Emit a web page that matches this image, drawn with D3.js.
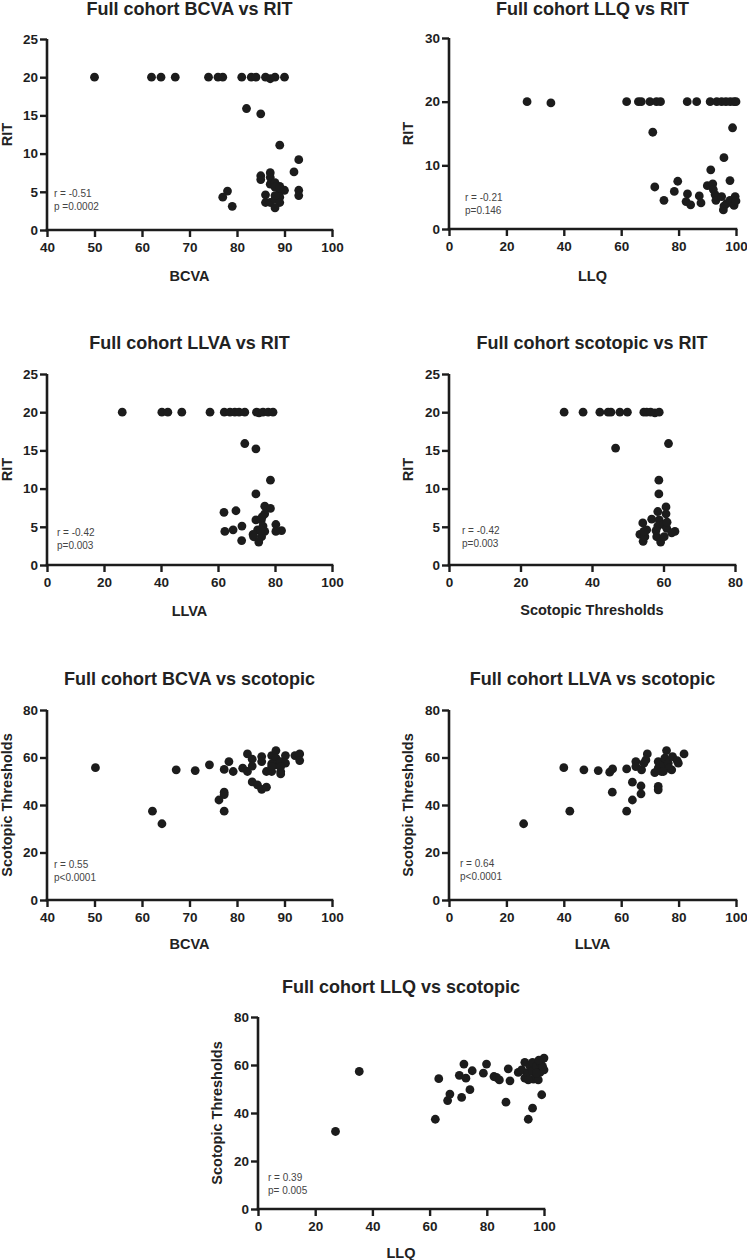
<!DOCTYPE html>
<html><head><meta charset="utf-8">
<script src="https://cdn.jsdelivr.net/npm/d3@7"></script>
<style>
body{margin:0;background:#fff;}
svg text{font-family:"Liberation Sans",Arial,sans-serif;}
</style></head>
<body><svg id="c" width="747" height="1260"></svg>
<script>
// ---------- DATA ----------
const titles = ["Full cohort BCVA vs RIT","Full cohort LLQ vs RIT","Full cohort LLVA vs RIT","Full cohort scotopic vs RIT",
  "Full cohort BCVA vs scotopic","Full cohort LLVA vs scotopic","Full cohort LLQ vs scotopic"];
const xLabels = ["BCVA","LLQ","LLVA","Scotopic Thresholds","BCVA","LLVA","LLQ"];
const yLabels = ["RIT","RIT","RIT","RIT","Scotopic Thresholds","Scotopic Thresholds","Scotopic Thresholds"];
const stats = [["r = -0.51","p =0.0002"],["r = -0.21","p=0.146"],["r = -0.42","p=0.003"],["r = -0.42","p=0.003"],
  ["r = 0.55","p<0.0001"],["r = 0.64","p<0.0001"],["r = 0.39","p= 0.005"]];
const xTicks = [[40,50,60,70,80,90,100],[0,20,40,60,80,100],[0,20,40,60,80,100],[0,20,40,60,80],
  [40,50,60,70,80,90,100],[0,20,40,60,80,100],[0,20,40,60,80,100]];
const yTicks = [[0,5,10,15,20,25],[0,10,20,30],[0,5,10,15,20,25],[0,5,10,15,20,25],
  [0,20,40,60,80],[0,20,40,60,80],[0,20,40,60,80]];

// Panel 1: BCVA vs RIT
const bcvaRit = [[50,20],[62,20],[64,20],[67,20],[74,20],[76,20],[77,20],[81,20],[83,20],[84,20],[86,20],[87,19.8],[88,20],[90,20],
 [82,15.9],[85,15.2],[89,11.1],[93,9.2],[92,7.6],[85,7.1],[85,6.6],[87,7.5],[87,6.9],[87,6.0],[88,6.2],[89,5.7],[90,5.2],[89,5.0],
 [93,5.2],[93,4.5],[78,5.1],[77,4.3],[79,3.1],[86,4.6],[86,3.6],[87,3.6],[88,4.0],[89,4.3],[89,3.6],[88,2.9],[88,4.5],[88,5.6],[89,5.5]];
// Panel 2: LLQ vs RIT
const llqRit = [[27.2,20],[35.5,19.8],[61.9,20],[66,20],[67,20],[70,20],[72.3,20],[73.7,20],[83,20],[86.3,20],[91,20],[93.3,20],
 [95,20],[96.5,20],[98,20],[99.3,20],[100,20],[71,15.2],[98.8,15.9],[95.8,11.2],[91.2,9.3],[97.9,7.6],[71.7,6.6],[79.7,7.5],
 [78.5,5.9],[74.9,4.5],[83.1,5.5],[82.6,4.3],[84.2,3.8],[87.2,5.2],[87.8,4.1],[90,6.8],[91.9,7.1],[92.1,6.2],[92.7,5.4],[93,4.5],
 [95,5.1],[95.6,3.0],[95.8,3.6],[96.7,4.0],[97.9,4.5],[98.8,4.2],[99.7,5.1],[99.3,3.7],[100,4.4]];
// Panel 3: LLVA vs RIT
const llvaRit = [[26.4,20],[40.3,20],[42.4,20],[47.3,20],[57.2,20],[62.2,20],[64.2,20],[65.9,20],[67.4,20],[69.4,20],[73.5,20],
 [74.4,19.9],[75.8,20],[77.6,20],[79.3,20],[69.4,15.9],[73.3,15.2],[78.4,11.1],[73.3,9.3],[76.4,7.7],[78.4,7.4],[76.4,6.7],
 [62.1,6.9],[66.3,7.1],[73.3,5.9],[75.2,5.9],[75.8,5.1],[80.3,5.3],[82.3,4.5],[80.3,4.4],[76.4,4.4],[73.9,4.6],[62.4,4.4],
 [65.3,4.6],[68.4,5.1],[68.3,3.2],[72.3,4.0],[72.5,3.7],[75.3,3.7],[74.3,3.0],[75,4.6],[75.5,6.3]];
// Panel 4: scotopic vs RIT
const scotRit = [[32.2,20],[37.5,20],[42.2,20],[44.5,20],[45.3,20],[47.8,20],[49.9,20],[54.5,20],[55.3,20],[56.4,20],[57.6,19.9],
 [58.8,20],[46.6,15.3],[61.4,15.9],[58.7,11.1],[58.7,9.3],[60.7,7.6],[58.4,7.0],[60.7,6.7],[56.7,6.0],[54.2,5.5],[58.8,5.9],
 [58.4,5.1],[60,5.3],[60.9,4.8],[63.2,4.4],[62.3,4.2],[55.3,4.6],[53.4,4.0],[54.3,3.1],[54.8,3.7],[58.1,3.7],[59.2,3.0],
 [60.2,3.7],[57.9,4.5],[61,5.6],[54.5,4.4]];
// Panel 5: BCVA vs scotopic
const bcvaScot = [[50.2,55.7],[62.2,37.4],[64.2,32.1],[67.2,54.8],[71.2,54.5],[74.2,56.9],[77.3,55.0],[78.3,58.3],[77.3,45.4],
 [77.3,44.4],[76.2,42.1],[77.3,37.4],[79.2,54.1],[81.2,55.5],[82.2,54.1],[82.2,61.5],[83.2,59.3],[83.2,56.4],[83.2,49.7],
 [84.3,48.5],[85.2,46.6],[86.2,47.5],[85.2,60.4],[85.2,58.3],[86.2,54.1],[87.3,54.1],[87.3,60.8],[88.2,62.9],[88.2,59.7],
 [89.2,54.1],[89.2,53.1],[88.2,56.9],[87.3,57.3],[89.2,58.3],[90.2,60.8],[90.2,57.6],[92.2,60.8],[93.2,61.5],[93.2,58.7],
 [87.3,56.2],[89.2,56.2]];
// Panel 6: LLVA vs scotopic
const llvaScot = [[26.0,32.1],[40.0,55.7],[42.1,37.4],[47.0,54.8],[52.0,54.5],[56.0,53.8],[57.0,55.2],[56.9,45.4],[61.9,55.2],
 [61.9,37.4],[63.9,49.6],[63.9,42.1],[66.9,48.0],[66.9,44.7],[65.1,58.3],[65.1,56.2],[67.1,54.8],[67.9,57.6],[69.1,61.5],
 [68.6,59.0],[71.7,53.6],[72.9,58.3],[72.9,55.5],[72.9,47.8],[72.9,46.4],[74.0,54.1],[74.7,56.9],[75.8,62.9],[75.2,59.7],
 [76.4,57.6],[77.6,54.8],[77.9,60.4],[79.5,58.7],[79.9,57.6],[81.9,61.5],[76.7,55.5],[74.7,54.1]];
// Panel 7: LLQ vs scotopic
const llqScot = [[27.1,32.3],[35.4,57.3],[62.0,37.4],[63.2,54.3],[66.3,45.2],[67.1,47.9],[70.4,55.7],[71.2,46.5],[72.0,60.4],
 [72.7,54.5],[74.1,49.7],[74.9,57.6],[78.8,56.6],[79.9,60.4],[82.5,55.2],[83.4,54.8],[84.4,53.8],[86.7,44.5],[87.5,58.4],
 [88.1,53.4],[91.0,56.9],[92.2,58.0],[93.3,61.1],[93.3,54.5],[94.2,56.6],[94.5,37.4],[95.1,59.4],[96.0,61.1],[96.0,57.3],
 [96.3,54.1],[96.0,42.0],[97.4,59.4],[98.0,53.8],[98.6,56.9],[98.8,60.8],[99.2,47.6],[100,62.9],[100,58.0],[99.5,59.4],
 [97.4,56.6],[94.5,53.8],[98.2,62.0]];
const panelData = [bcvaRit, llqRit, llvaRit, scotRit, bcvaScot, llvaScot, llqScot];

// ---------- LAYOUT ----------
const layout = [
 {x0:47, x1:332, y0:230, y1:39,  xd:[40,100], yd:[0,25], titleY:15,  xtY:281, ylX:12,  sx:54,  sy:197},
 {x0:449,x1:736, y0:229, y1:38,  xd:[0,100],  yd:[0,30], titleY:15,  xtY:281, ylX:413, sx:465, sy:201},
 {x0:47, x1:332, y0:565, y1:374, xd:[0,100],  yd:[0,25], titleY:349, xtY:616, ylX:12,  sx:57,  sy:536},
 {x0:449,x1:735, y0:565, y1:374, xd:[0,80],   yd:[0,25], titleY:349, xtY:615, ylX:413, sx:462, sy:534},
 {x0:47, x1:332, y0:900, y1:710, xd:[40,100], yd:[0,80], titleY:685, xtY:949, ylX:12,  sx:54,  sy:868},
 {x0:449,x1:736, y0:900, y1:710, xd:[0,100],  yd:[0,80], titleY:685, xtY:949, ylX:413, sx:460, sy:867},
 {x0:258,x1:544, y0:1209,y1:1017,xd:[0,100],  yd:[0,80], titleY:993, xtY:1258,ylX:222, sx:268, sy:1181}
];

const svg = d3.select("#c");
const ink = "#1c1c1c";

layout.forEach((L, i) => {
  const g = svg.append("g");
  const x = d3.scaleLinear().domain(L.xd).range([L.x0, L.x1]);
  const y = d3.scaleLinear().domain(L.yd).range([L.y0, L.y1]);

  g.append("text").attr("x", (L.x0 + L.x1) / 2).attr("y", L.titleY)
    .attr("text-anchor", "middle").attr("font-size", 18).attr("font-weight", "bold")
    .attr("fill", "#222").text(titles[i]);

  const xa = g.append("g").attr("transform", `translate(0,${L.y0})`)
    .call(d3.axisBottom(x).tickValues(xTicks[i]).tickSize(7).tickSizeOuter(0).tickPadding(5).tickFormat(d3.format("d")));
  const ya = g.append("g").attr("transform", `translate(${L.x0},0)`)
    .call(d3.axisLeft(y).tickValues(yTicks[i]).tickSize(7).tickSizeOuter(0).tickPadding(2).tickFormat(d3.format("d")));
  [xa, ya].forEach(a => {
    a.select(".domain").attr("stroke", ink).attr("stroke-width", 2.6);
    a.selectAll(".tick line").attr("stroke", ink).attr("stroke-width", 2.4);
    a.selectAll(".tick text").attr("fill", "#1e1e1e").attr("font-size", 13.5).attr("font-weight", "bold");
  });
  xa.select(".domain").attr("d", `M${L.x0 - 1.3},0H${L.x1 + 1.3}`);
  ya.select(".domain").attr("d", `M0,${L.y0 + 1.3}V${L.y1}`);

  g.append("text").attr("x", (L.x0 + L.x1) / 2).attr("y", L.xtY)
    .attr("text-anchor", "middle").attr("font-size", 14.5).attr("font-weight", "bold")
    .attr("fill", "#222").text(xLabels[i]);
  g.append("text").attr("transform", `translate(${L.ylX},${(L.y0 + L.y1) / 2}) rotate(-90)`)
    .attr("text-anchor", "middle").attr("font-size", 14.5).attr("font-weight", "bold")
    .attr("fill", "#222").text(yLabels[i]);

  g.append("text").attr("x", L.sx).attr("y", L.sy).attr("font-size", 10).attr("fill", "#444").text(stats[i][0]);
  g.append("text").attr("x", L.sx).attr("y", L.sy + 13).attr("font-size", 10).attr("fill", "#444").text(stats[i][1]);

  g.append("g").selectAll("circle").data(panelData[i]).join("circle")
    .attr("cx", d => x(d[0])).attr("cy", d => y(d[1])).attr("r", 4.4).attr("fill", ink);
});
</script></body></html>
